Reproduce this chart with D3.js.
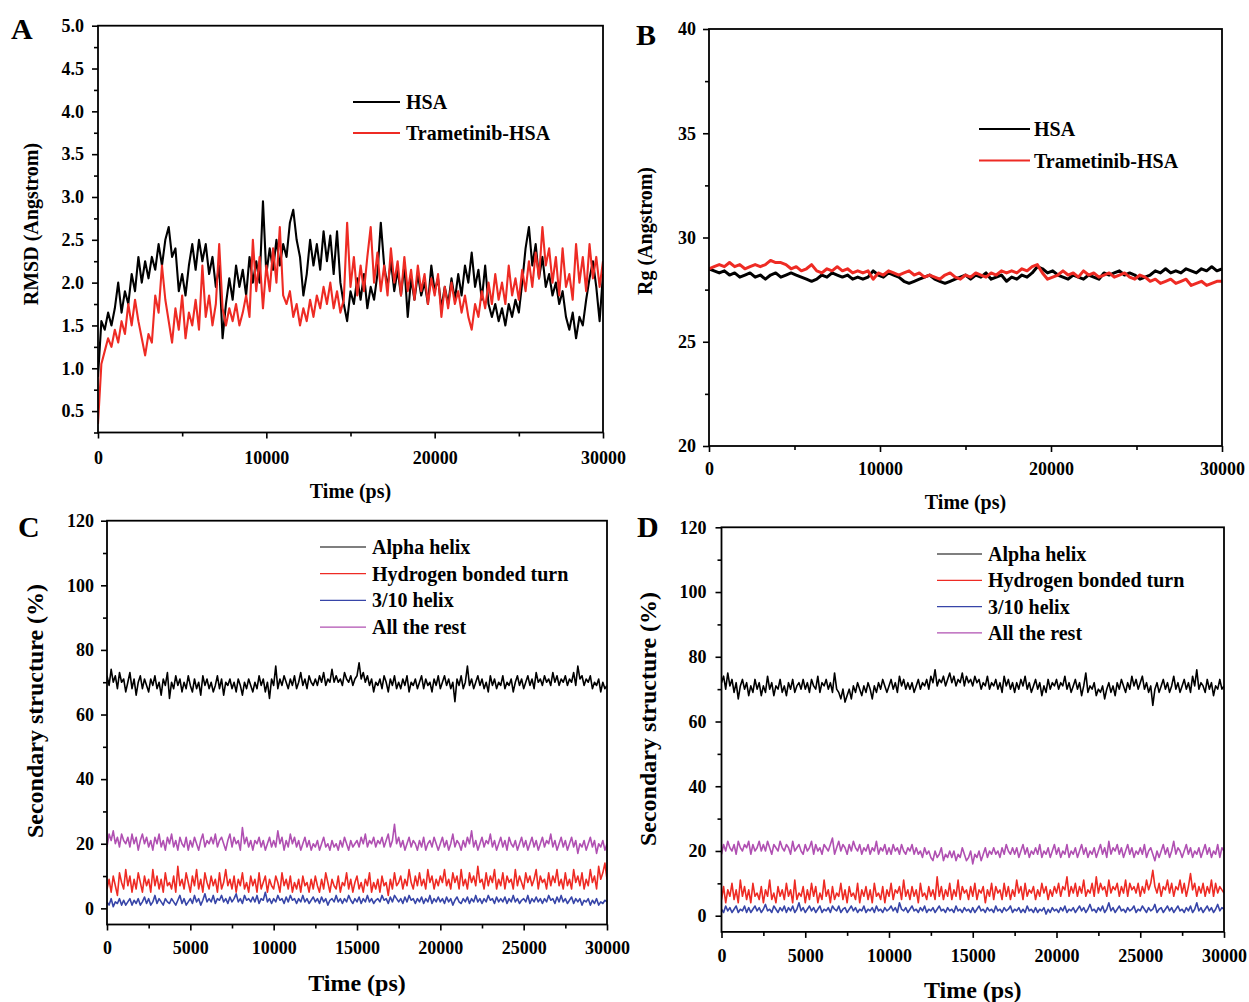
<!DOCTYPE html>
<html><head><meta charset="utf-8">
<script src="https://cdn.jsdelivr.net/npm/d3@7"></script>
<style>
body{margin:0;background:#fff}
svg{display:block}
text{font-family:"Liberation Serif","Times New Roman",serif;font-weight:bold;fill:#000}
</style>
</head><body>
<svg id="c" width="1249" height="1002"></svg>
<script>
// ---------- DATA ----------
const timeMax = 30000;
const rmsdTicks = [0.5,1.0,1.5,2.0,2.5,3.0,3.5,4.0,4.5,5.0];
const rgTicks = [20,25,30,35,40];
const ssTicks = [0,20,40,60,80,100,120];
const timeTicksAB = [0,10000,20000,30000];
const timeTicksCD = [0,5000,10000,15000,20000,25000,30000];

// Panel A: RMSD (every 200 ps)
const rmsdHSA = [0.9,1.55,1.45,1.65,1.5,1.7,2.0,1.65,1.9,1.75,
2.1,1.9,2.3,2.0,2.25,2.05,2.3,2.15,2.45,2.2,
2.5,2.65,2.3,2.4,1.9,2.1,1.85,2.2,2.45,2.15,
2.5,2.25,2.45,2.1,2.3,1.95,2.2,1.35,1.75,2.05,
1.8,2.2,1.95,2.15,1.85,2.3,2.0,2.25,2.0,2.95,
2.1,2.4,2.15,2.5,2.2,2.45,2.3,2.7,2.85,2.5,
2.3,1.85,2.1,2.5,2.2,2.45,2.15,2.6,2.25,2.55,
2.1,2.6,2.0,1.75,1.55,1.9,1.75,2.05,1.8,2.1,
1.7,1.95,1.8,2.1,2.7,2.2,1.95,2.25,1.9,2.15,
1.85,2.2,1.6,2.05,1.8,2.1,1.85,2.0,1.75,2.2,
1.9,2.05,1.7,1.95,1.75,2.05,1.8,2.1,1.85,2.2,
2.0,2.35,1.95,2.15,1.8,2.2,1.75,1.6,1.75,1.55,
1.7,1.5,1.75,1.6,1.8,1.65,2.0,2.4,2.65,2.2,
2.45,2.05,2.3,1.95,2.1,1.85,2.0,1.75,1.9,1.6,
1.45,1.65,1.35,1.6,1.5,1.8,2.05,2.25,1.95,1.55,
2.1];
const rmsdTram = [0.35,1.05,1.2,1.35,1.25,1.45,1.3,1.55,1.4,1.75,
1.5,1.8,1.55,1.35,1.15,1.4,1.3,1.85,1.65,2.2,
1.8,1.55,1.3,1.7,1.45,1.85,1.35,1.65,1.5,1.8,
1.45,2.2,1.6,1.85,1.5,1.75,2.45,1.7,1.5,1.7,
1.55,1.75,1.5,1.65,1.85,1.6,2.5,1.9,2.3,1.7,
2.2,1.9,2.4,2.0,2.65,1.85,1.75,1.9,1.6,1.75,
1.5,1.7,1.55,1.8,1.6,1.85,1.7,1.95,1.75,2.0,
1.7,1.9,1.65,1.8,2.7,1.95,2.3,1.85,2.2,1.9,
2.3,2.65,2.0,2.35,1.9,2.2,1.85,2.4,2.0,2.25,
1.85,2.3,1.9,2.15,1.8,2.2,1.9,2.1,1.75,2.05,
1.85,2.1,1.6,1.95,1.7,2.0,1.75,1.9,1.65,1.85,
1.6,1.45,1.75,1.6,1.9,1.7,2.0,1.75,2.1,1.8,
2.0,1.75,2.2,1.85,2.05,1.8,2.15,1.9,2.25,1.95,
2.35,2.05,2.65,2.2,2.4,2.0,2.3,1.85,2.4,1.95,
2.1,1.8,2.45,2.0,2.3,1.9,2.45,2.05,2.3,1.95,
2.25];

// Panel B: Rg (every 300 ps)
const rgHSA = [28.5,28.4,28.3,28.4,28.2,28.3,28.1,28.2,28.3,28.1,
28.2,28.0,28.2,28.3,28.1,28.2,28.3,28.2,28.1,28.0,
27.9,28.0,28.2,28.1,28.3,28.2,28.1,28.2,28.0,28.1,
28.0,28.1,28.4,28.2,28.1,28.3,28.2,28.1,27.9,27.8,
27.9,28.0,28.1,28.2,28.0,27.9,27.8,27.9,28.0,28.1,
28.2,28.0,28.2,28.1,28.3,28.0,28.1,28.2,27.9,28.1,
28.0,28.2,28.1,28.3,28.6,28.5,28.3,28.4,28.2,28.1,
28.0,28.2,28.1,28.0,28.2,28.1,28.0,28.3,28.2,28.3,
28.4,28.2,28.3,28.2,28.0,28.1,28.2,28.4,28.3,28.5,
28.3,28.4,28.3,28.5,28.4,28.3,28.5,28.4,28.6,28.4,
28.5];
const rgTram = [28.5,28.6,28.7,28.6,28.8,28.6,28.7,28.5,28.6,28.7,
28.6,28.7,28.9,28.8,28.8,28.7,28.5,28.6,28.4,28.5,
28.7,28.4,28.3,28.5,28.4,28.6,28.4,28.5,28.3,28.4,
28.3,28.4,28.0,28.3,28.2,28.4,28.3,28.2,28.3,28.4,
28.2,28.3,28.1,28.2,28.1,28.0,28.2,28.3,28.1,28.0,
28.2,28.1,28.3,28.2,28.1,28.3,28.2,28.4,28.3,28.4,
28.3,28.5,28.4,28.6,28.7,28.3,28.0,28.1,28.2,28.4,
28.2,28.3,28.1,28.4,28.2,28.3,28.1,28.2,28.3,28.1,
28.2,28.3,28.1,28.0,28.2,28.1,27.9,28.0,27.8,27.9,
28.0,27.8,27.9,28.0,27.7,27.8,27.9,27.7,27.8,27.9,
27.9];

// Panel C: secondary structure, HSA (every 125 ps)
const cAlpha = [72,69,74,70,72,68,73,70,71,67,
70,73,68,71,66,70,72,68,71,69,
67,71,69,72,68,70,66,71,69,73,
65,70,68,72,69,71,67,70,68,72,
69,67,71,68,70,66,72,69,71,68,
70,67,69,72,68,71,66,70,69,71,
68,70,67,71,69,66,70,68,71,69,
67,70,68,72,69,71,67,70,65,71,
69,75,68,71,69,72,70,68,71,69,
72,68,70,73,69,71,68,72,70,69,
71,69,72,70,73,69,71,70,74,70,
72,70,71,69,73,71,70,72,69,71,
72,76,71,73,70,72,69,71,67,70,
69,71,68,72,70,67,71,69,72,68,
70,68,71,69,72,67,70,69,71,68,
70,72,68,71,69,70,67,71,69,72,
68,70,72,69,71,68,70,64,71,69,
72,68,70,75,69,71,68,70,72,69,
71,68,70,67,72,69,71,68,70,69,
72,68,70,69,71,67,70,72,69,71,
68,70,72,69,71,68,73,70,71,69,
72,70,71,69,73,70,72,69,71,70,
72,69,71,70,73,69,75,71,72,69,
71,70,72,68,70,69,71,67,70,68,
69];
const cTurn = [6,9,5,10,7,4,11,8,6,12,
7,10,5,9,6,11,8,5,10,7,
9,5,12,7,10,6,9,5,11,7,
8,6,10,5,13,7,9,6,11,8,
5,10,7,12,6,9,5,11,8,6,
10,7,9,5,11,6,8,12,7,9,
6,10,5,9,7,11,6,8,5,10,
7,9,5,11,6,8,10,5,9,7,
6,10,8,5,11,7,9,6,10,5,
8,6,9,5,10,7,8,5,9,6,
10,7,5,9,6,11,8,5,9,7,
6,10,5,8,7,11,6,9,5,8,
10,6,8,5,9,7,11,5,8,6,
9,5,10,7,8,4,9,6,11,7,
8,10,6,9,7,12,8,6,10,7,
11,7,9,6,12,8,10,6,9,7,
10,8,12,7,9,6,11,8,10,6,
12,7,9,6,11,8,10,7,13,8,
9,6,11,7,10,8,12,6,9,7,
11,6,10,8,9,6,12,7,10,8,
6,11,8,10,7,9,12,6,10,8,
9,6,11,7,10,8,12,7,9,6,
11,7,9,6,12,8,10,7,11,6,
9,7,12,8,10,6,13,9,11,14,
9];
const cHelix310 = [2,1,3,0.5,2,1.5,3,1,2.5,1,
2,3,1,2.5,1.5,3,1,2,3.5,1.5,
3,1,2,4,1.5,3,2,1,3,2,
1.5,3,2,1,2.5,4,1.5,3,1,2,
3,1.5,4,2,3,1,2.5,4.5,2,3,
2,4,1.5,3,2.5,4,2,3,1.5,3.5,
2,3,4.5,2,3,1.5,4,2.5,3,2,
3.5,2,4,1.5,3,2.5,5,2,3,1.5,
3,2,4,2.5,3,1.5,3.5,2,4,2.5,
3,1.5,3,2,4,2,3,1.5,2.5,3.5,
2,3,1.5,3.5,2,3,1,2.5,3,2,
4,2,3,1.5,3,2,4,2.5,1.5,3,
2,3.5,1.5,3,2,4,2,3,1.5,2.5,
3,2,4,2.5,3,1.5,3.5,2,4,3,
2,3,1.5,3.5,2,4,2.5,3,1.5,3,
2,3.5,1.5,3,2,4,1.5,3,2,3.5,
2,3,1.5,3.5,2,3,1,2.5,3.5,2,
1.5,3,2,3.5,1.5,3,2,4,2,3,
1.5,3,2,4,2.5,3,1.5,3.5,2,3,
2,3.5,1.5,3,2,4,2,3,1.5,2.5,
3,2,4,1.5,3,2,3.5,2,3,1.5,
3,2,4,2.5,3,1.5,3.5,2,4,2,
3,1.5,2.5,3.5,1.5,3,2,3,1,2.5,
2,3,1,2.5,1.5,3,1,2,1.5,2.5,
2];
const cRest = [19,23,21,24,20,22,19,23,21,20,
22,19,23,20,22,18,21,23,20,22,
19,21,18,22,20,23,19,21,18,22,
20,23,19,21,18,22,20,19,22,18,
21,19,22,20,18,21,23,19,21,20,
22,20,23,19,21,22,20,18,21,23,
19,22,20,21,18,25,20,22,19,21,
18,21,20,22,19,21,18,20,22,19,
21,19,24,20,22,18,21,19,23,20,
22,19,21,18,20,22,19,21,18,20,
19,21,18,20,22,19,20,18,21,19,
20,18,21,19,22,20,18,21,19,20,
21,19,22,20,23,19,21,20,22,19,
21,20,22,19,21,23,19,21,26,20,
22,19,21,18,20,22,19,21,20,18,
21,19,22,18,20,21,19,22,20,18,
20,22,19,21,18,20,23,19,21,20,
18,21,19,22,20,24,19,21,18,20,
22,19,21,20,23,19,21,18,20,22,
19,21,18,22,20,19,21,18,20,22,
19,21,18,20,22,19,21,18,20,22,
19,21,20,23,19,21,18,20,22,19,
21,18,20,22,19,21,17,20,19,21,
18,20,22,19,21,17,20,19,21,18,
20];

// Panel D: secondary structure, Trametinib-HSA (every 125 ps)
const dAlpha = [72,74,70,75,71,73,69,72,67,71,
73,70,72,68,71,69,73,70,72,68,
71,69,74,70,72,68,71,70,73,69,
71,68,72,70,73,69,71,72,70,73,
70,72,69,73,71,70,74,69,72,71,
73,70,72,69,75,70,69,67,70,66,
68,70,67,71,69,72,70,68,71,69,
72,70,67,71,69,72,70,73,71,69,
71,73,70,72,69,74,71,73,70,72,
70,72,69,71,73,70,72,71,73,70,
74,72,76,71,73,72,74,71,73,75,
72,74,71,73,72,75,71,74,72,73,
71,74,72,73,70,72,71,74,70,72,
71,73,70,72,69,74,71,73,70,72,
69,72,70,73,71,74,70,72,69,71,
73,70,72,68,71,69,73,70,72,71,
73,70,72,71,74,70,72,69,71,73,
70,72,68,71,75,69,71,70,72,68,
70,69,71,67,70,72,69,71,68,72,
70,73,71,69,72,70,74,71,73,70,
72,74,70,72,69,71,65,70,72,69,
71,73,70,72,69,71,74,70,72,69,
71,73,70,72,69,74,71,76,70,72,
71,69,73,70,72,68,71,70,73,70,
71];
const dTurn = [5,9,4,8,6,10,5,8,4,11,
6,9,5,8,4,10,6,7,5,9,
4,8,6,11,5,7,4,9,6,8,
5,10,6,8,4,11,5,7,6,9,
4,8,5,10,6,9,4,7,5,11,
6,8,4,9,5,7,6,10,5,8,
4,9,6,7,5,10,4,8,6,9,
5,8,4,10,6,7,5,9,4,8,
6,10,5,8,7,9,5,11,6,8,
5,9,6,8,4,10,6,7,5,9,
6,8,5,12,6,9,5,8,6,10,
5,8,6,11,5,9,7,8,5,9,
6,10,5,8,7,9,4,8,6,10,
5,9,7,8,5,10,6,9,5,8,
6,11,7,9,5,10,6,8,7,9,
5,8,6,10,7,9,5,8,6,9,
7,10,6,9,8,12,6,9,7,10,
6,9,7,11,6,8,7,10,6,12,
7,10,8,9,6,11,7,9,8,10,
6,9,7,11,6,10,8,9,7,10,
6,9,7,11,8,10,14,9,7,10,
6,9,8,11,7,10,6,9,8,11,
7,10,6,9,13,8,10,6,9,7,
10,6,9,7,11,6,10,7,9,8,
7];
const dHelix310 = [2,1,3,1.5,2.5,1,2,3,1,2,
1.5,3,1,2.5,1,2,3,1.5,2.5,1,
2,3.5,1.5,2,1,3,2,1,2.5,1.5,
3,1,2.5,1.5,3,1,2,4,1.5,2.5,
1,2,3,1.5,2.5,1,2,3,1,2,
1.5,2.5,1,3,2,1.5,3,1,2,2.5,
1,2,3,1.5,2.5,1,2,1.5,3,1,
2,1.5,2.5,1,3,1.5,2,1,2.5,1.5,
2,3,1.5,2.5,1,4,2,1.5,2.5,1,
2,3,1.5,2,1,2.5,1.5,3,1,2,
1.5,2.5,1,2,3,1.5,2,1,2.5,1.5,
2,1,3,1.5,2,1,2.5,1.5,2,1,
2.5,1,2,3,1.5,2,1,2.5,1.5,2,
1,3,1.5,2,1,2.5,1.5,2,3,1,
2,1.5,2.5,1,2,1,3,1.5,2,1,
2.5,1,2,1.5,2.5,0.5,2,1,2.5,1.5,
2,1,2.5,1.5,3,1,2,1.5,2.5,1,
2,3,1.5,2.5,1,2,3.5,1.5,2,1,
2.5,1.5,3,1,2,4,1.5,2.5,1,2,
3,1.5,2,1,2.5,1.5,2,3,1,2,
1.5,3,2,1,2.5,1.5,2,3.5,1,2,
2.5,1,2,3,1.5,2.5,1,2,3,1.5,
2,1,2.5,1.5,3,1,2,4,1.5,2.5,
1,2,3,1.5,2.5,1,2,3.5,1.5,2.5,
2];
const dRest = [19,22,20,23,21,20,22,19,23,21,
20,22,21,23,19,22,20,21,23,20,
22,20,23,21,19,22,21,20,23,21,
20,22,21,19,23,20,21,22,20,19,
22,20,21,23,19,22,20,21,19,22,
21,20,22,24,19,21,23,20,22,21,
19,22,20,23,21,20,22,19,21,20,
22,19,21,20,23,19,21,20,22,19,
21,19,22,20,21,19,22,20,19,21,
20,22,19,21,19,20,18,21,19,20,
18,17,20,18,19,21,17,19,18,20,
18,20,17,19,18,21,19,17,18,20,
16,19,18,20,17,19,21,18,20,19,
21,19,20,18,21,19,22,20,19,21,
19,21,18,20,22,19,21,18,20,19,
21,19,22,18,20,19,21,18,20,22,
19,21,18,20,19,22,18,20,19,21,
18,20,22,19,21,18,20,19,21,18,
20,22,19,21,18,23,19,21,20,22,
19,21,18,20,22,19,21,18,20,19,
21,19,22,18,20,21,19,17,20,18,
20,22,19,21,18,20,23,19,21,20,
18,20,22,19,21,18,20,19,21,18,
20,22,19,21,18,20,19,22,18,21,
20];

const abNames = ["HSA","Trametinib-HSA"];
const ssNames = ["Alpha helix","Hydrogen bonded turn","3/10 helix","All the rest"];
const colBlack = "#000000", colRed = "#ee2b24", colBlue = "#3745a8", colMag = "#b050b2";

// ---------- DRAWING ----------
const svg = d3.select("#c");

function drawPanel(p){
  const x = d3.scaleLinear().domain([0,timeMax]).range([p.x0,p.x1]);
  const y = d3.scaleLinear().domain(p.yDom).range([p.yB,p.yT]);
  const g = svg.append("g");
  const cid = "clip"+p.letter;
  svg.append("clipPath").attr("id",cid).append("rect")
    .attr("x",p.x0).attr("y",p.yT).attr("width",p.x1-p.x0).attr("height",p.yB-p.yT);
  const lg = g.append("g").attr("clip-path","url(#"+cid+")");
  p.series.forEach(s=>{
    const n = s.values.length;
    const line = d3.line().x((d,i)=>x(i*timeMax/(n-1))).y(d=>y(d));
    lg.append("path").attr("d",line(s.values)).attr("fill","none")
      .attr("stroke",s.color).attr("stroke-width",p.lw).attr("stroke-linejoin","round");
  });
  const xm = d3.axisBottom(x).tickValues(p.xMinor).tickSize(p.minorLen).tickFormat("");
  const ym = d3.axisLeft(y).tickValues(p.yMinor).tickSize(p.minorLen).tickFormat("");
  const xa = d3.axisBottom(x).tickValues(p.xTicks).tickSize(6).tickPadding(p.xPad).tickFormat(d3.format("d"));
  const ya = d3.axisLeft(y).tickValues(p.yTicks).tickSize(6).tickPadding(p.yPad).tickFormat(p.yFmt);
  [[xm,"b"],[xa,"b"],[ym,"l"],[ya,"l"]].forEach(([ax,side])=>{
    const a = g.append("g").attr("transform", side==="b" ? `translate(0,${p.yB})` : `translate(${p.x0},0)`).call(ax);
    a.select(".domain").remove();
    a.selectAll("line").attr("stroke","#000").attr("stroke-width",1.6);
    a.selectAll("text").attr("font-size",18).attr("font-family",null).attr("fill","#000");
  });
  g.append("rect").attr("x",p.x0).attr("y",p.yT).attr("width",p.x1-p.x0).attr("height",p.yB-p.yT)
    .attr("fill","none").attr("stroke","#000").attr("stroke-width",1.8);
  g.append("text").attr("x",(p.x0+p.x1)/2).attr("y",p.xTitleY).attr("text-anchor","middle")
    .attr("font-size",p.titleSize).text("Time (ps)");
  g.append("text").attr("transform",`translate(${p.yTitleX},${p.yTitleCY}) rotate(-90)`)
    .attr("text-anchor","middle").attr("font-size",p.yTitleSize).text(p.yTitle);
  g.append("text").attr("x",p.letterX).attr("y",p.letterY).attr("font-size",30).text(p.letter);
  p.series.forEach((s,i)=>{
    const ly = p.legY + i*p.legDy;
    g.append("line").attr("x1",p.legX0).attr("x2",p.legX1).attr("y1",ly).attr("y2",ly)
      .attr("stroke",s.color).attr("stroke-width",p.legLw);
    g.append("text").attr("x",p.legTx).attr("y",ly).attr("dy","0.35em").attr("font-size",20).text(s.name);
  });
}

drawPanel({letter:"A", x0:98, x1:603, yT:25.7, yB:432.5, yDom:[0.25,5.0],
  xTicks:timeTicksAB, xMinor:[5000,15000,25000], yTicks:rmsdTicks, yMinor:[0.25,0.75,1.25,1.75,2.25,2.75,3.25,3.75,4.25,4.75],
  minorLen:4, xPad:13, yPad:8, yFmt:d3.format(".1f"), lw:2.1,
  xTitleY:498, titleSize:20, yTitle:"RMSD (Angstrom)", yTitleX:38, yTitleCY:224, yTitleSize:20,
  letterX:11, letterY:39,
  series:[{name:abNames[0],values:rmsdHSA,color:colBlack},{name:abNames[1],values:rmsdTram,color:colRed}],
  legX0:353, legX1:400, legTx:406, legY:102, legDy:31, legLw:2.2});

drawPanel({letter:"B", x0:709, x1:1222, yT:29, yB:446, yDom:[20,40],
  xTicks:timeTicksAB, xMinor:[5000,15000,25000], yTicks:rgTicks, yMinor:[22.5,27.5,32.5,37.5],
  minorLen:4, xPad:10, yPad:7, yFmt:d3.format("d"), lw:3,
  xTitleY:509, titleSize:20, yTitle:"Rg (Angstrom)", yTitleX:652, yTitleCY:231, yTitleSize:20,
  letterX:636, letterY:45,
  series:[{name:abNames[0],values:rgHSA,color:colBlack},{name:abNames[1],values:rgTram,color:colRed}],
  legX0:979, legX1:1030, legTx:1034, legY:129, legDy:31.5, legLw:2.2});

drawPanel({letter:"C", x0:107, x1:607, yT:520.7, yB:924.5, yDom:[-5,120],
  xTicks:timeTicksCD, xMinor:[2500,7500,12500,17500,22500,27500], yTicks:ssTicks, yMinor:[10,30,50,70,90,110],
  minorLen:4, xPad:11, yPad:7, yFmt:d3.format("d"), lw:1.6,
  xTitleY:991, titleSize:24, yTitle:"Secondary structure (%)", yTitleX:43, yTitleCY:711, yTitleSize:24,
  letterX:18, letterY:537,
  series:[{name:ssNames[0],values:cAlpha,color:colBlack},{name:ssNames[1],values:cTurn,color:colRed},
          {name:ssNames[2],values:cHelix310,color:colBlue},{name:ssNames[3],values:cRest,color:colMag}],
  legX0:320, legX1:366, legTx:372, legY:547, legDy:26.7, legLw:1.2});

drawPanel({letter:"D", x0:721.5, x1:1224, yT:527.3, yB:931.9, yDom:[-5,120],
  xTicks:timeTicksCD, xMinor:[2500,7500,12500,17500,22500,27500], yTicks:ssTicks, yMinor:[10,30,50,70,90,110],
  minorLen:4, xPad:11, yPad:9, yFmt:d3.format("d"), lw:1.6,
  xTitleY:998, titleSize:24, yTitle:"Secondary structure (%)", yTitleX:656, yTitleCY:719, yTitleSize:24,
  letterX:637, letterY:537,
  series:[{name:ssNames[0],values:dAlpha,color:colBlack},{name:ssNames[1],values:dTurn,color:colRed},
          {name:ssNames[2],values:dHelix310,color:colBlue},{name:ssNames[3],values:dRest,color:colMag}],
  legX0:937, legX1:982, legTx:988, legY:554, legDy:26.3, legLw:1.2});
</script>
</body></html>
